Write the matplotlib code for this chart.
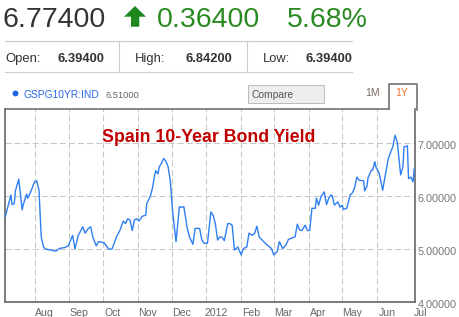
import matplotlib
matplotlib.use("Agg")
import matplotlib.pyplot as plt
from matplotlib.transforms import ScaledTranslation
from matplotlib.patches import Polygon, Rectangle
from matplotlib.lines import Line2D
import pandas as pd

plt.rcParams['font.family'] = ['Liberation Sans', 'DejaVu Sans']

# ---- data ----
dates = [
    "2011-07-06", "2011-07-11", "2011-07-12", "2011-07-14", "2011-07-15", "2011-07-18",
    "2011-07-21", "2011-07-22", "2011-07-25", "2011-07-26", "2011-07-29",
    "2011-08-01", "2011-08-03", "2011-08-05", "2011-08-07", "2011-08-09", "2011-08-11",
    "2011-08-16", "2011-08-20", "2011-08-23", "2011-08-28", "2011-08-31",
    "2011-09-04", "2011-09-06", "2011-09-09", "2011-09-13", "2011-09-15", "2011-09-18",
    "2011-09-20", "2011-09-22", "2011-09-25", "2011-09-27",
    "2011-10-02", "2011-10-06", "2011-10-09", "2011-10-13", "2011-10-16", "2011-10-19",
    "2011-10-21", "2011-10-23", "2011-10-25", "2011-10-27", "2011-10-29", "2011-10-31",
    "2011-11-02", "2011-11-05", "2011-11-08", "2011-11-09", "2011-11-12", "2011-11-14",
    "2011-11-16", "2011-11-17", "2011-11-19", "2011-11-20", "2011-11-22", "2011-11-24",
    "2011-11-26", "2011-11-28", "2011-11-30",
    "2011-12-02", "2011-12-05", "2011-12-06", "2011-12-08", "2011-12-10", "2011-12-12",
    "2011-12-15", "2011-12-17", "2011-12-20", "2011-12-22", "2011-12-26", "2011-12-28",
    "2011-12-30",
    "2012-01-02", "2012-01-05", "2012-01-07", "2012-01-09", "2012-01-11", "2012-01-13",
    "2012-01-15", "2012-01-17", "2012-01-20", "2012-01-22", "2012-01-24", "2012-01-26",
    "2012-01-29",
    "2012-02-01", "2012-02-03", "2012-02-06", "2012-02-08", "2012-02-11", "2012-02-13",
    "2012-02-15", "2012-02-17", "2012-02-21", "2012-02-24", "2012-02-28",
    "2012-03-01", "2012-03-04", "2012-03-06", "2012-03-09", "2012-03-12", "2012-03-14",
    "2012-03-17", "2012-03-20", "2012-03-22", "2012-03-24", "2012-03-26", "2012-03-29",
    "2012-03-31",
    "2012-04-02", "2012-04-04", "2012-04-07", "2012-04-08", "2012-04-10", "2012-04-12",
    "2012-04-15", "2012-04-17", "2012-04-19", "2012-04-21", "2012-04-22", "2012-04-24",
    "2012-04-27", "2012-04-29",
    "2012-05-01", "2012-05-02", "2012-05-05", "2012-05-08", "2012-05-10", "2012-05-12",
    "2012-05-14", "2012-05-16", "2012-05-20", "2012-05-21", "2012-05-23", "2012-05-24",
    "2012-05-27", "2012-05-28", "2012-05-30", "2012-05-31",
    "2012-06-03", "2012-06-06", "2012-06-08", "2012-06-11", "2012-06-14", "2012-06-15",
    "2012-06-17", "2012-06-19", "2012-06-22", "2012-06-24", "2012-06-25", "2012-06-28",
    "2012-06-29", "2012-07-01", "2012-07-03", "2012-07-04",
]
yields = [
    5.61, 6.02, 5.84, 5.86, 6.10, 6.32,
    5.74, 5.84, 6.04, 5.96, 6.10,
    6.27, 6.29, 6.11, 5.23, 5.04, 5.00,
    4.98, 4.96, 5.01, 5.03, 5.06,
    5.26, 5.00, 5.26, 5.42, 5.30, 5.39,
    5.42, 5.22, 5.06, 5.14,
    5.12, 5.00, 5.00, 5.23, 5.35, 5.53,
    5.48, 5.57, 5.55, 5.35, 5.55, 5.57,
    5.53, 5.62, 5.64, 5.86, 5.99, 6.15,
    6.40, 6.48, 6.42, 6.55, 6.62, 6.71,
    6.66, 6.55, 6.27,
    5.70, 5.14, 5.36, 5.80, 5.79, 5.80,
    5.39, 5.23, 5.09, 5.39, 5.39, 5.17,
    5.11,
    5.11, 5.70, 5.64, 5.48, 5.17, 5.23,
    5.22, 5.16, 5.48, 5.48, 5.45, 4.98,
    5.04,
    4.89, 5.01, 5.04, 5.30, 5.26, 5.30,
    5.43, 5.23, 5.14, 5.08, 5.01,
    4.89, 4.95, 5.14, 5.01, 5.08, 5.18,
    5.21, 5.23, 5.47, 5.36, 5.35, 5.45,
    5.35,
    5.35, 5.77, 5.77, 5.96, 5.83, 5.99,
    6.08, 5.84, 5.96, 6.02, 6.01, 5.83,
    5.89, 5.79,
    5.83, 5.75, 5.77, 6.02, 6.06, 6.16,
    6.36, 6.30, 6.29, 6.10, 6.19, 6.35,
    6.49, 6.49, 6.65, 6.55,
    6.42, 6.11, 6.36, 6.71, 6.88, 6.93,
    7.15, 7.02, 6.40, 6.55, 6.93, 6.95,
    6.33, 6.36, 6.27, 6.51,
]
month_ticks = ["2011-08-01", "2011-09-01", "2011-10-01", "2011-11-01", "2011-12-01",
               "2012-01-01", "2012-02-01", "2012-03-01", "2012-04-01", "2012-05-01",
               "2012-06-01", "2012-07-01"]
month_labels = ["Aug", "Sep", "Oct", "Nov", "Dec", "2012", "Feb", "Mar", "Apr", "May", "Jun", "Jul"]
y_ticks = [4, 5, 6, 7]
y_labels = ["4.00000", "5.00000", "6.00000", "7.00000"]

last_price = "6.77400"
change = "0.36400"
change_pct = "5.68%"
stats = [("Open:", "6.39400"), ("High:", "6.84200"), ("Low:", "6.39400")]
symbol = "GSPG10YR:IND"
symbol_value = "6.51000"
title = "Spain 10-Year Bond Yield"

# ---- figure ----
W, H = 459, 317
fig = plt.figure(figsize=(W / 100, H / 100), dpi=100)
fig.patch.set_facecolor("white")

def fx(x):
    return x / W

def fy(y):
    return 1 - y / H

# axes
ax_l, ax_r, ax_t, ax_b = 5.3, 414.7, 109.3, 302.0
ax = fig.add_axes([fx(ax_l), fy(ax_b), fx(ax_r - ax_l), (ax_b - ax_t) / H])
x = pd.to_datetime(dates)
ax.plot(x, yields, color="#2f7ff2", lw=1.0, zorder=3, solid_joinstyle="round")
ax.set_xlim(pd.Timestamp("2011-07-06"), pd.Timestamp("2012-07-04 12:00"))
ax.set_ylim(4, 7.64)

ax.set_xticks(pd.to_datetime(month_ticks))
ax.set_xticklabels(month_labels)
ax.set_yticks(y_ticks)
ax.set_yticklabels(y_labels)
ax.yaxis.tick_right()
ax.tick_params(axis="x", length=0, pad=4, labelsize=7.6, labelcolor="#666666")
ax.tick_params(axis="y", length=0, pad=2, labelsize=7.8, labelcolor="#777777")
for lab in ax.get_xticklabels():
    lab.set_transform(lab.get_transform() + ScaledTranslation(10 / 100, 0, fig.dpi_scale_trans))
for lab in ax.get_yticklabels():
    lab.set_transform(lab.get_transform() + ScaledTranslation(0, -2.3 / 100, fig.dpi_scale_trans))

ax.grid(True, color="#c8c8c8", lw=0.75, ls=(0, (5.8, 2.9)), zorder=1)
ax.xaxis.get_major_ticks()[-1].gridline.set_visible(False)
for s in ["left", "bottom", "right"]:
    ax.spines[s].set_color("#666666")
    ax.spines[s].set_linewidth(1.2)
ax.spines["top"].set_visible(False)

ax.text((101.7 - ax_l) / (ax_r - ax_l), (ax_b - 141.7) / (ax_b - ax_t), title,
        transform=ax.transAxes, fontsize=12.8, fontweight="bold", color="#c00000",
        ha="left", va="baseline", zorder=5)

# ---- header ----
fig.text(fx(2.5), fy(26.7), last_price, fontsize=20.5, color="#333333", ha="left", va="baseline")
arrow = Polygon([(fx(124), fy(16.7)), (fx(135), fy(6)), (fx(146), fy(16.7)),
                 (fx(139.3), fy(16.7)), (fx(139.3), fy(26.7)), (fx(131), fy(26.7)),
                 (fx(131), fy(16.7))], closed=True, transform=fig.transFigure,
                facecolor="#1e871e", edgecolor="none")
fig.patches.append(arrow)
fig.text(fx(157.3), fy(26.7), change, fontsize=20.5, color="#2a8a22", ha="left", va="baseline")
fig.text(fx(286.7), fy(26.7), change_pct, fontsize=20.5, color="#2a8a22", ha="left", va="baseline")

# stats row
for yy in (41, 72):
    fig.add_artist(Line2D([fx(5), fx(352)], [fy(yy), fy(yy)], color="#cccccc", lw=0.8))
for xx in (119.3, 247.3):
    fig.add_artist(Line2D([fx(xx), fx(xx)], [fy(41), fy(72)], color="#cccccc", lw=0.8))
label_x = [5, 135, 263.3]
value_x = [57.7, 185.7, 306]
for (lab, val), lx, vx in zip(stats, label_x, value_x):
    fig.text(fx(lx), fy(61.7), lab, fontsize=9.4, color="#333333", ha="left", va="baseline")
    fig.text(fx(vx), fy(61.7), val, fontsize=9.3, fontweight="bold", color="#333333",
             ha="left", va="baseline")

# legend / controls row
fig.add_artist(Line2D([fx(14.7)], [fy(93.3)], marker="o", ms=4.2, color="#1f62e6",
                      markeredgewidth=0, linestyle="none"))
fig.text(fx(23.3), fy(97.7), symbol, fontsize=7.4, color="#2a6ae6", ha="left", va="baseline")
fig.text(fx(106), fy(97.7), symbol_value, fontsize=6.7, color="#666666", ha="left", va="baseline")
fig.add_artist(Rectangle((fx(248.3), fy(102.7)), fx(76), 17.4 / H, transform=fig.transFigure,
                         facecolor="#eeeeee", edgecolor="#bbbbbb", lw=0.7))
fig.text(fx(251), fy(98), "Compare", fontsize=7.4, color="#555555", ha="left", va="baseline")
fig.text(fx(365.7), fy(96.5), "1M", fontsize=7.6, color="#7a6a62", ha="left", va="baseline")
fig.text(fx(395.7), fy(96.5), "1Y", fontsize=7.6, color="#f07438", ha="left", va="baseline")

# top border with tab
fig.add_artist(Line2D([fx(5.3), fx(388.5)], [fy(109.3), fy(109.3)], color="#666666", lw=1.1))
fig.add_artist(Line2D([fx(388.5), fx(388.5), fx(416.5), fx(416.5)],
                      [fy(109.3), fy(84), fy(84), fy(110)], color="#666666", lw=1.1))

fig.savefig("out.png", dpi=100, facecolor="white")
